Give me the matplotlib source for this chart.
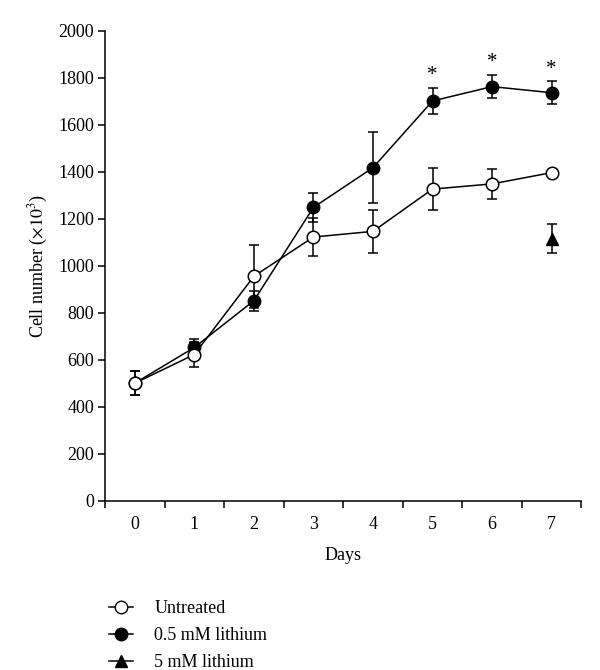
import numpy as np
import matplotlib.pyplot as plt
from matplotlib.lines import Line2D

plt.rcParams['font.family'] = ['Liberation Serif', 'DejaVu Serif']
plt.rcParams['mathtext.fontset'] = 'stix'

# cell counts (x10^3)
days = [0, 1, 2, 3, 4, 5, 6, 7]
untreated = [500, 622, 955, 1122, 1146, 1326, 1348, 1396]
untreated_err = [50, 55, 135, 80, 93, 91, 63, 0]
li_low = [500, 652, 851, 1248, 1417, 1701, 1762, 1736]
li_low_err = [50, 38, 42, 60, 150, 55, 50, 48]
li_high_day = [7]
li_high = [1115]
li_high_err = [62]
star_days = [5, 6, 7]

fig = plt.figure(figsize=(6, 6.7), dpi=100)
ax = fig.add_axes([0.175, 0.2527, 0.794, 0.7015])

ebkw = dict(ecolor='black', elinewidth=1.1, capsize=3.5, capthick=1.1)

# error bars first, then lines + markers on top
ax.errorbar(days, li_low, yerr=li_low_err, fmt='none', zorder=2, **ebkw)
ax.errorbar(days, untreated, yerr=untreated_err, fmt='none', zorder=2, **ebkw)
ax.errorbar(li_high_day, li_high, yerr=li_high_err, fmt='none', zorder=2, **ebkw)

ax.plot(days, li_low, '-o', color='black', mfc='black', mec='black',
        ms=9, lw=1.1, zorder=3)
ax.plot(days, untreated, '-o', color='black', mfc='white', mec='black',
        ms=9, mew=1.1, lw=1.1, zorder=4)
ax.plot(li_high_day, li_high, '^', color='black', ms=8.5, zorder=4)

# significance stars above the 0.5 mM error bars
for d in star_days:
    i = days.index(d)
    ax.annotate('*', (d, li_low[i] + li_low_err[i]), xytext=(0, 2),
                textcoords='offset points', ha='center', va='bottom',
                fontsize=15)

ax.set_xlim(-0.5, 7.5)
ax.set_ylim(0, 2000)
ax.set_xticks(np.arange(-0.5, 8, 1))
ax.set_xticklabels([])
ax.set_xticks(days, minor=True)
ax.set_xticklabels([str(d) for d in days], minor=True)
ax.tick_params(axis='x', which='minor', length=0, pad=11, labelsize=13)
ax.tick_params(axis='x', which='major', direction='out', length=5, width=1.1)
ax.set_yticks(np.arange(0, 2001, 200))
ax.tick_params(axis='y', direction='out', length=5, width=1.1, labelsize=13, pad=3)

for s in ['top', 'right']:
    ax.spines[s].set_visible(False)
for s in ['left', 'bottom']:
    ax.spines[s].set_linewidth(1.1)

ax.set_xlabel('Days', fontsize=13, labelpad=10)
ax.set_ylabel('Cell number ($\\times10^3$)', fontsize=13, labelpad=6)

handles = [
    Line2D([], [], color='black', lw=1.1, marker='o', mfc='white', mec='black', ms=9),
    Line2D([], [], color='black', lw=1.1, marker='o', mfc='black', ms=9),
    Line2D([], [], color='black', lw=1.1, marker='^', mfc='black', ms=9),
]
labels = ['Untreated', '0.5 mM lithium', '5 mM lithium']
fig.legend(handles, labels, loc='upper left', bbox_to_anchor=(0.17, 0.115),
           frameon=False, fontsize=13, handlelength=1.3, handletextpad=1.2,
           labelspacing=0.55, borderaxespad=0)

fig.savefig('out.png', dpi=100)
